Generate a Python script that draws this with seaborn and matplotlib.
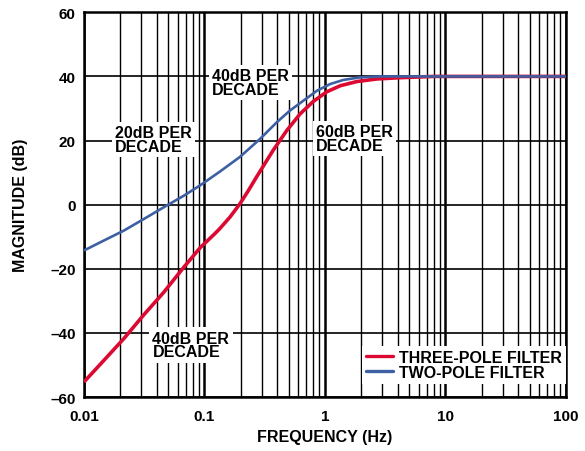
import numpy as np
import pandas as pd
import matplotlib
matplotlib.use("Agg")
import matplotlib.pyplot as plt
import seaborn as sns
from matplotlib.ticker import LogLocator, FixedLocator, NullFormatter

# ---- data ----
two_pole_freq = [0.01, 0.0146, 0.0214, 0.0313, 0.046, 0.0674, 0.0927, 0.134, 0.197,
                 0.289, 0.398, 0.51, 0.66, 0.855, 1.10, 1.42, 1.95, 2.87, 10, 100]
two_pole_db = [-14.3, -11.2, -8.1, -4.5, -0.8, 2.8, 6.1, 10.3, 14.9,
               20.5, 25.7, 29.3, 32.4, 35.5, 37.6, 38.9, 39.7, 40.0, 40.0, 40.0]

three_pole_freq = [0.01, 0.0146, 0.0214, 0.0313, 0.046, 0.0674, 0.0927, 0.12, 0.133,
                   0.1626, 0.197, 0.2296, 0.27, 0.318, 0.372, 0.481, 0.621, 0.80,
                   1.035, 1.34, 1.84, 2.69, 4.2, 8, 100]
three_pole_db = [-55.3, -48.6, -41.8, -34.4, -27.3, -19.5, -13.3, -9.3, -7.6,
                 -3.9, 0.3, 4.2, 8.6, 12.9, 17.0, 23.1, 28.3, 32.2,
                 35.2, 37.1, 38.4, 39.2, 39.6, 40.0, 40.0]

series_names = ["THREE-POLE FILTER", "TWO-POLE FILTER"]
series_colors = ["#DC0A32", "#3D5FA3"]

x_ticks = [0.01, 0.1, 1, 10, 100]
x_tick_labels = ["0.01", "0.1", "1", "10", "100"]
y_ticks = [-60, -40, -20, 0, 20, 40, 60]
y_tick_labels = ["\u201360", "\u201340", "\u201320", "0", "20", "40", "60"]

annotations = [
    ("20dB PER\nDECADE", 0.018, 20.2),
    ("40dB PER\nDECADE", 0.115, 38.2),
    ("60dB PER\nDECADE", 0.843, 20.6),
    ("40dB PER\nDECADE", 0.037, -43.8),
]

# ---- build frame ----
df = pd.concat([
    pd.DataFrame({"freq": three_pole_freq, "db": three_pole_db, "filter": series_names[0]}),
    pd.DataFrame({"freq": two_pole_freq, "db": two_pole_db, "filter": series_names[1]}),
], ignore_index=True)

sns.set_theme(style="white")
plt.rcParams["font.family"] = ["Liberation Sans", "DejaVu Sans"]
plt.rcParams["font.weight"] = "bold"
plt.rcParams["text.color"] = "black"
plt.rcParams["axes.labelcolor"] = "black"
plt.rcParams["xtick.color"] = "black"
plt.rcParams["ytick.color"] = "black"

fig = plt.figure(figsize=(5.85, 4.52), dpi=100)
ax = fig.add_axes([84 / 585, 1 - 398 / 452, (566 - 84) / 585, (398 - 13.3) / 452])

sns.lineplot(data=df, x="freq", y="db", hue="filter", hue_order=series_names,
             palette=dict(zip(series_names, series_colors)), ax=ax, legend=True,
             sort=False)
lines = ax.get_lines()
lines[0].set_linewidth(2.6)
lines[1].set_linewidth(1.9)
for ln in lines[:2]:
    ln.set_solid_joinstyle("round")
    ln.set_solid_capstyle("butt")
lines[0].set_zorder(4)
lines[1].set_zorder(5)

ax.set_xscale("log")
ax.set_xlim(0.01, 100)
ax.set_ylim(-60, 60)

ax.xaxis.set_major_locator(FixedLocator(x_ticks))
ax.set_xticklabels(x_tick_labels)
ax.xaxis.set_minor_locator(LogLocator(base=10, subs=np.arange(2, 10)))
ax.xaxis.set_minor_formatter(NullFormatter())
ax.set_yticks(y_ticks)
ax.set_yticklabels(y_tick_labels)

ax.set_axisbelow(True)
ax.xaxis.grid(True, which="major", color="black", linewidth=1.8)
ax.xaxis.grid(True, which="minor", color="black", linewidth=1.0)
ax.yaxis.grid(True, which="major", color="black", linewidth=1.2)
ax.tick_params(axis="x", which="both", length=0, labelsize=11, pad=9, labelcolor="black")
ax.tick_params(axis="y", which="both", length=0, labelsize=11, pad=6, labelcolor="black")
for lab in ax.get_xticklabels() + ax.get_yticklabels():
    lab.set_fontweight("bold")
for s in ax.spines.values():
    s.set_color("black")
    s.set_linewidth(1.8)

ax.set_xlabel("FREQUENCY (Hz)", fontsize=11.5, fontweight="bold", color="black")
ax.set_ylabel("MAGNITUDE (dB)", fontsize=11.5, fontweight="bold", color="black")
ax.xaxis.set_label_coords(0.5, (398 - 438) / 384.7)
ax.xaxis.label.set_verticalalignment("center")
ax.yaxis.set_label_coords((20.5 - 84) / 482, 0.5)
ax.yaxis.label.set_verticalalignment("center")

for txt, fx, fy in annotations:
    ax.text(fx, fy, txt, ha="left", va="center", multialignment="left",
            fontsize=11.5, fontweight="bold", linespacing=0.9, zorder=6, color="black",
            bbox=dict(boxstyle="square,pad=0.2", facecolor="white", edgecolor="none"))

leg = ax.legend(loc="lower right", bbox_to_anchor=(1.0, (398 - 385) / 384.7), frameon=True,
                fancybox=False, framealpha=1, facecolor="white", edgecolor="none",
                fontsize=11.5, handlelength=1.65, handletextpad=0.4, labelspacing=0.0,
                borderpad=0.25, borderaxespad=0.0, title=None)
for t in leg.get_texts():
    t.set_fontweight("bold")
    t.set_color("black")
for h in leg.get_lines():
    h.set_linewidth(2.4)
leg.set_zorder(7)

fig.savefig("out.png", dpi=100)
